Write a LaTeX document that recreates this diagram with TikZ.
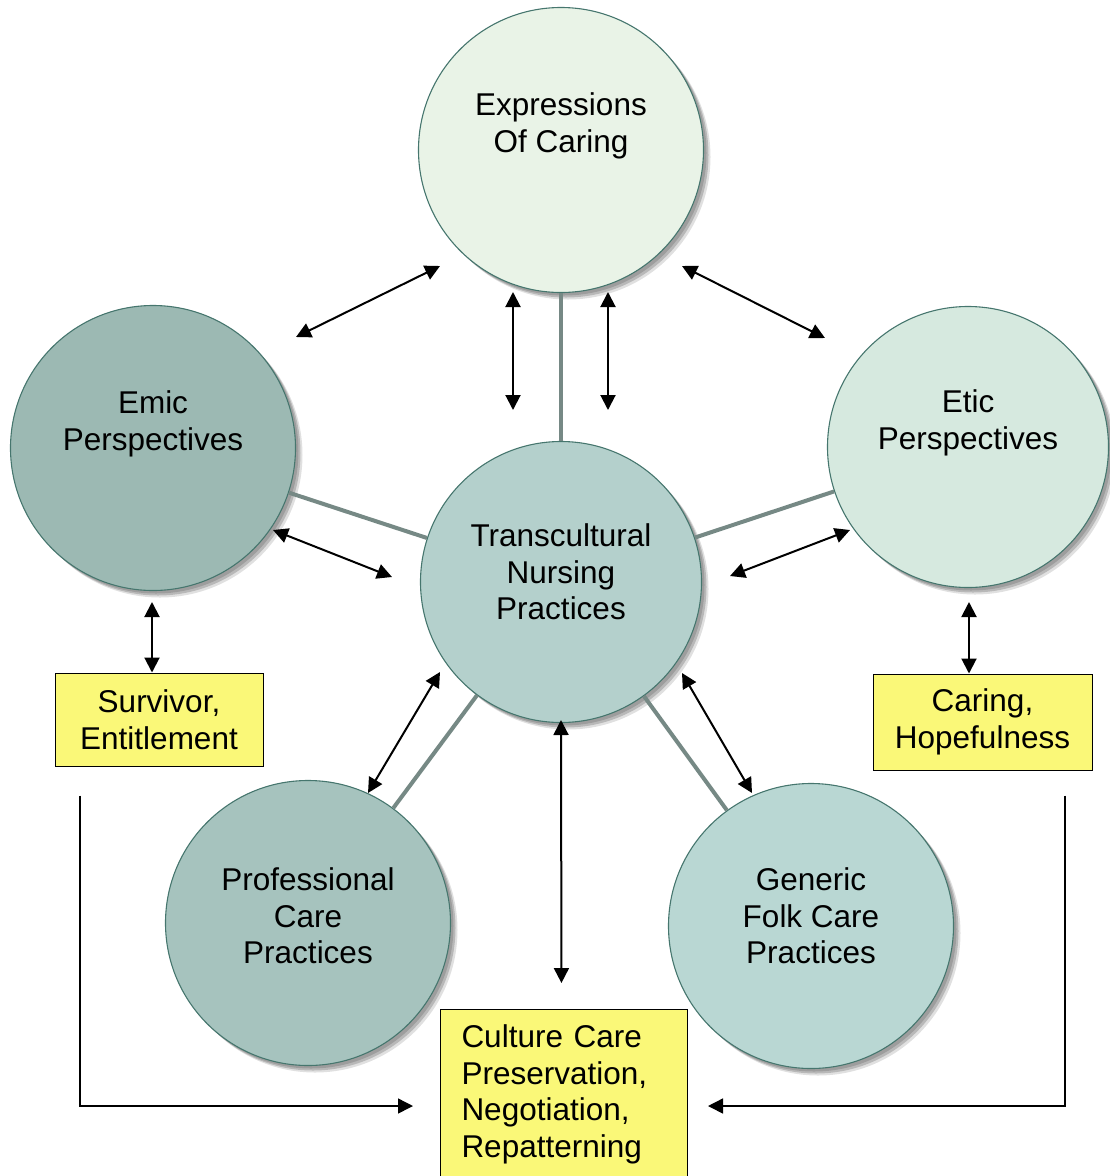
\documentclass[tikz,border=0pt]{standalone}
\usepackage{fontspec}
\setmainfont{Liberation Sans}
\usetikzlibrary{arrows.meta,shadows}

\definecolor{cExpr}{RGB}{233,243,231}
\definecolor{cEmic}{RGB}{156,185,179}
\definecolor{cEtic}{RGB}{214,233,223}
\definecolor{cTrans}{RGB}{180,208,204}
\definecolor{cProf}{RGB}{166,195,190}
\definecolor{cGen}{RGB}{185,215,211}
\definecolor{cRim}{RGB}{70,118,110}
\definecolor{cSpoke}{RGB}{118,137,133}
\definecolor{cBox}{RGB}{250,248,120}

\tikzset{
  bigtri/.tip={Triangle[length=15pt,width=15pt]},
  lbl/.style={font=\fontsize{31.5}{36.5}\selectfont, align=center, inner sep=0pt},
  bubble/.style={circle, draw=cRim, line width=1.1pt, minimum size=285pt, inner sep=0pt,
    general shadow={shadow xshift=7pt, shadow yshift=-7pt, fill=black, opacity=0.12},
    general shadow={shadow xshift=5pt, shadow yshift=-5pt, fill=black, opacity=0.18},
    general shadow={shadow xshift=3pt, shadow yshift=-3pt, fill=black, opacity=0.15}},
  notebox/.style={rectangle, draw=black, line width=1pt, fill=cBox, inner sep=0pt,
    font=\fontsize{31.5}{36.5}\selectfont, align=center},
  spoke/.style={draw=cSpoke, line width=4pt},
  dbl/.style={line width=2pt, bigtri-bigtri},
  one/.style={line width=1.5pt, -bigtri}
}

\begin{document}
\begin{tikzpicture}[x=1pt,y=-1pt]
\useasboundingbox (0,0) rectangle (1110,1176);

% circles
\node[bubble, fill=cExpr]  (expr)  at (561,150) {};
\node[bubble, fill=cEmic]  (emic)  at (153,448) {};
\node[bubble, fill=cEtic, minimum size=281pt] (etic) at (968,447) {};
\node[bubble, fill=cTrans, minimum size=281pt] (trans) at (561,582) {};
\node[bubble, fill=cProf]  (prof)  at (308,923) {};
\node[bubble, fill=cGen]   (gen)   at (811,926) {};

% circle captions
\node[lbl] (exprtxt)  at ([yshift=24pt]expr.center)  {Expressions\\Of Caring};
\node[lbl] (emictxt)  at ([yshift=24pt]emic.center)  {Emic\\Perspectives};
\node[lbl] (etictxt)  at ([yshift=24pt]etic.center)  {Etic\\Perspectives};
\node[lbl] (transtxt) at ([yshift=10pt]trans.center) {Transcultural\\Nursing\\Practices};
\node[lbl] (proftxt)  at ([yshift=7pt]prof.center)   {Professional\\Care\\Practices};
\node[lbl] (gentxt)   at ([yshift=10pt]gen.center)   {Generic\\Folk Care\\Practices};

% boxes
\node[notebox, minimum width=208pt, minimum height=93pt] (surv) at (159,719.5) {Survivor,\\Entitlement};
\node[notebox, minimum width=219pt, minimum height=96pt] (care) at (982.5,722) {Caring,\\Hopefulness};
\node[notebox, anchor=north west, align=left, text width=205pt, inner xsep=21pt,
      minimum height=170pt] (culture) at (440,1009)
      {Culture Care\\Preservation,\\Negotiation,\\Repatterning};

% spokes
\draw[spoke] (trans) -- (expr);
\draw[spoke] (trans) -- (emic);
\draw[spoke] (trans) -- (etic);
\draw[spoke] (trans) -- (prof);
\draw[spoke] (trans) -- (gen);

% two-way arrows
\draw[dbl] ([shift={(143,-111)}]emic.center) -- ([shift={(-121,116)}]expr.center);
\draw[dbl] ([shift={(121,116)}]expr.center) -- ([shift={(-143,-109)}]etic.center);
\draw[dbl] ([shift={(-48,142)}]expr.center) -- ([shift={(-48,-172)}]trans.center);
\draw[dbl] ([shift={(47,142)}]expr.center) -- ([shift={(47,-172)}]trans.center);
\draw[dbl] ([shift={(120,82)}]emic.center) -- ([shift={(-169,-5)}]trans.center);
\draw[dbl] ([shift={(169,-6)}]trans.center) -- ([shift={(-118,83)}]etic.center);
\draw[dbl] ([shift={(-1,154)}]emic.center) -- ([xshift=-7pt]surv.north);
\draw[dbl] ([shift={(1,155)}]etic.center) -- ([xshift=-13.5pt]care.north);
\draw[dbl] ([shift={(-121,90)}]trans.center) -- ([shift={(60,-130)}]prof.center);
\draw[dbl] ([shift={(121,91)}]trans.center) -- ([shift={(-59,-133)}]gen.center);
\draw[dbl, shorten >=26pt] ([shift={(0,138)}]trans.center) -- ([xshift=-2.5pt]culture.north);

% feeds into the culture care box
\draw[one, shorten >=27pt] ([shift={(-79,29)}]surv.south) |- ([yshift=-11.5pt]culture.west);
\draw[one, shorten >=20pt] ([shift={(82.5,25)}]care.south) |- ([yshift=-11.5pt]culture.east);

\end{tikzpicture}
\end{document}
